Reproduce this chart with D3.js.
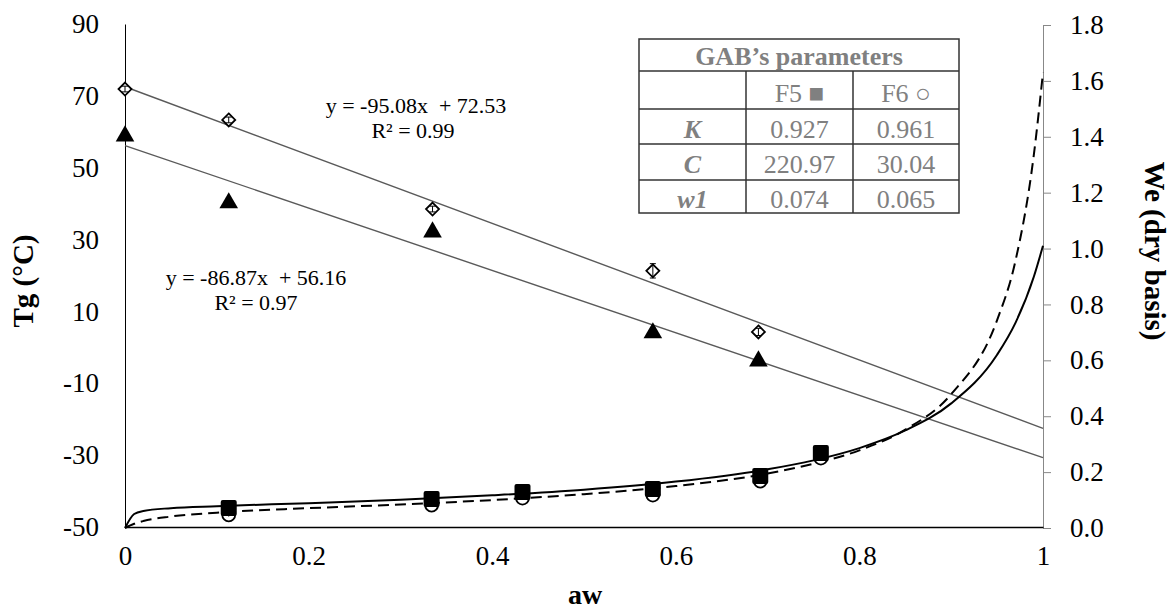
<!DOCTYPE html>
<html>
<head>
<meta charset="utf-8">
<script src="https://cdn.jsdelivr.net/npm/d3@7"></script>
<style>
  body { margin: 0; background: #fff; }
  svg text { font-family: "Liberation Serif", "Times New Roman", Times, serif; }
</style>
</head>
<body>
<svg width="1175" height="613"></svg>
<script>
// glass transition points (left axis)
const tgAw = [0, 0.113, 0.335, 0.575, 0.69];
const tgDiamond = [71.9, 63.3, 38.5, 21.3, 4.3];
const tgDiamondErr = [0.8, 0.8, 0.8, 2.0, 1.0];
const tgTriangle = [58.8, 40.2, 32.1, 4.0, -3.8];

// linear fits, end values read at aw = 0 and aw = 1
const fitAw = [0, 1];
const fitDiamond = [72.53, -22.55];
const fitTriangle = [56.16, -30.71];

// sorption points (right axis)
const weAw = [0.113, 0.334, 0.433, 0.575, 0.692, 0.758];
const weF5 = [0.072, 0.104, 0.129, 0.140, 0.186, 0.268];
const weF6 = [0.047, 0.082, 0.107, 0.118, 0.168, 0.250];
const weF6Err = [0.006, 0.006, 0.006, 0.006, 0.006, 0.006];

// GAB curves
const curveAw = [0, 0.01, 0.02, 0.05, 0.1, 0.2, 0.3, 0.4, 0.5, 0.6, 0.7, 0.75, 0.8, 0.85, 0.9, 0.95, 0.97, 0.99, 1];
const curveF5 = [0, 0.050, 0.061, 0.071, 0.078, 0.089, 0.101, 0.117, 0.137, 0.166, 0.210, 0.242, 0.286, 0.349, 0.446, 0.620, 0.734, 0.899, 1.01];
const curveF6 = [0, 0.015, 0.025, 0.041, 0.055, 0.071, 0.084, 0.100, 0.121, 0.150, 0.195, 0.230, 0.278, 0.352, 0.479, 0.744, 0.956, 1.335, 1.63];

// table
const tableTitle = "GAB\u2019s parameters";
const tableHead = ["", "F5 \u25A0", "F6 \u25CB"];
const tableRows = [["K", "0.927", "0.961"], ["C", "220.97", "30.04"], ["w1", "0.074", "0.065"]];

const xTicks = [0, 0.2, 0.4, 0.6, 0.8, 1];
const yLeftTicks = [-50, -30, -10, 10, 30, 50, 70, 90];
const yRightTicks = [0, 0.2, 0.4, 0.6, 0.8, 1.0, 1.2, 1.4, 1.6, 1.8];

const svg = d3.select("svg");
const x = d3.scaleLinear().domain([0, 1]).range([125, 1043]);
const yL = d3.scaleLinear().domain([-50, 90]).range([527, 24]);
const yR = d3.scaleLinear().domain([0, 1.8]).range([528, 25]);

function styleTicks(g) {
  g.attr("font-family", null);
  g.selectAll("text").attr("font-size", 27).attr("fill", "#000");
}

// right axis
const rAxis = svg.append("g")
  .attr("transform", "translate(1043,0)")
  .call(d3.axisRight(yR).tickValues(yRightTicks).tickFormat(d3.format(".1f")).tickSize(8).tickPadding(19).tickSizeOuter(0));
rAxis.select(".domain").attr("stroke", "#888");
rAxis.selectAll(".tick line").attr("stroke", "#888");
styleTicks(rAxis);

// left axis
const lAxis = svg.append("g")
  .attr("transform", "translate(125,0)")
  .call(d3.axisLeft(yL).tickValues(yLeftTicks).tickFormat(d => String(d)).tickSize(0).tickPadding(26).tickSizeOuter(0));
lAxis.select(".domain").attr("stroke", "#000");
styleTicks(lAxis);

// bottom axis
const bAxis = svg.append("g")
  .attr("transform", "translate(0,527)")
  .call(d3.axisBottom(x).tickValues(xTicks).tickFormat(d => String(d)).tickSize(0).tickPadding(19).tickSizeOuter(0));
bAxis.select(".domain").attr("stroke", "#000").attr("stroke-width", 1.6);
styleTicks(bAxis);

// axis titles
svg.append("text").attr("x", 585).attr("y", 604).attr("text-anchor", "middle")
  .attr("font-size", 28).attr("font-weight", "bold").text("aw");
svg.append("text").attr("transform", "translate(33,281) rotate(-90)").attr("text-anchor", "middle")
  .attr("font-size", 29).attr("font-weight", "bold").text("Tg (\u00B0C)");
svg.append("text").attr("transform", "translate(1145,251) rotate(90)").attr("text-anchor", "middle")
  .attr("font-size", 29).attr("font-weight", "bold").text("We (dry basis)");

// linear fits
const fitLine = d3.line().x((d, i) => x(fitAw[i])).y(d => yL(d));
[fitDiamond, fitTriangle].forEach(f => {
  svg.append("path").attr("d", fitLine(f)).attr("fill", "none")
    .attr("stroke", "#5a5a5a").attr("stroke-width", 1.4);
});

// GAB curves
const curveLine = d3.line().x((d, i) => x(curveAw[i])).y(d => yR(d)).curve(d3.curveMonotoneX);
svg.append("path").attr("d", curveLine(curveF5)).attr("fill", "none")
  .attr("stroke", "#000").attr("stroke-width", 2);
svg.append("path").attr("d", curveLine(curveF6)).attr("fill", "none")
  .attr("stroke", "#000").attr("stroke-width", 2).attr("stroke-dasharray", "11,6");

// circles (F6) with error bars
const circ = svg.append("g");
weAw.forEach((a, i) => {
  const cx = x(a), cy = yR(weF6[i]);
  circ.append("circle").attr("cx", cx).attr("cy", cy).attr("r", 6.5)
    .attr("fill", "#fff").attr("stroke", "#000").attr("stroke-width", 1.8);
  circ.append("line").attr("x1", cx).attr("x2", cx)
    .attr("y1", yR(weF6[i] + weF6Err[i])).attr("y2", yR(weF6[i] - weF6Err[i]))
    .attr("stroke", "#000").attr("stroke-width", 1);
});

// squares (F5)
svg.append("g").selectAll("rect").data(weF5).join("rect")
  .attr("x", (d, i) => x(weAw[i]) - 8).attr("y", d => yR(d) - 8)
  .attr("width", 16).attr("height", 16).attr("rx", 2)
  .attr("fill", "#000");

// triangles
svg.append("g").selectAll("path").data(tgTriangle).join("path")
  .attr("d", d3.symbol().type(d3.symbolTriangle).size(150))
  .attr("transform", (d, i) => `translate(${x(tgAw[i])},${yL(d)})`)
  .attr("fill", "#000");

// diamonds with error bars
const dia = svg.append("g");
tgAw.forEach((a, i) => {
  const cx = x(a), cy = yL(tgDiamond[i]);
  dia.append("path").attr("d", `M${cx},${cy - 6.5}L${cx + 6.5},${cy}L${cx},${cy + 6.5}L${cx - 6.5},${cy}Z`)
    .attr("fill", "#fff").attr("stroke", "#000").attr("stroke-width", 1.8);
  const y1 = yL(tgDiamond[i] + tgDiamondErr[i]), y2 = yL(tgDiamond[i] - tgDiamondErr[i]);
  dia.append("path").attr("d", `M${cx},${y1}V${y2}M${cx - 3},${y1}H${cx + 3}M${cx - 3},${y2}H${cx + 3}`)
    .attr("stroke", "#000").attr("stroke-width", 1).attr("fill", "none");
});

// fit labels
const eq = svg.append("g").attr("font-size", 22).attr("text-anchor", "middle").attr("fill", "#000");
eq.append("text").attr("x", 416).attr("y", 113).attr("xml:space", "preserve").text("y = -95.08x  + 72.53");
eq.append("text").attr("x", 413).attr("y", 138).text("R\u00B2 = 0.99");
eq.append("text").attr("x", 256).attr("y", 285).attr("xml:space", "preserve").text("y = -86.87x  + 56.16");
eq.append("text").attr("x", 256).attr("y", 310).text("R\u00B2 = 0.97");

// GAB table
const tx = [639, 746, 853, 959];
const ty = [39, 71, 109, 144, 180, 213];
const tb = svg.append("g");
tb.append("rect").attr("x", tx[0]).attr("y", ty[0]).attr("width", tx[3] - tx[0]).attr("height", ty[5] - ty[0])
  .attr("fill", "#fff").attr("stroke", "#333").attr("stroke-width", 1.5);
ty.slice(1, 5).forEach(v => {
  tb.append("line").attr("x1", tx[0]).attr("x2", tx[3]).attr("y1", v).attr("y2", v)
    .attr("stroke", "#333").attr("stroke-width", 1.5);
});
[tx[1], tx[2]].forEach(v => {
  tb.append("line").attr("x1", v).attr("x2", v).attr("y1", ty[1]).attr("y2", ty[5])
    .attr("stroke", "#333").attr("stroke-width", 1.5);
});
tb.append("text").attr("x", (tx[0] + tx[3]) / 2).attr("y", 65).attr("text-anchor", "middle")
  .attr("font-size", 26).attr("font-weight", "bold").attr("fill", "#808080").text(tableTitle);
const colMid = [0, 1, 2].map(i => (tx[i] + tx[i + 1]) / 2);
const rowBase = [102, 138, 173, 208];
[tableHead].concat(tableRows).forEach((row, r) => {
  row.forEach((cell, c) => {
    const t = tb.append("text").attr("x", colMid[c]).attr("y", rowBase[r]).attr("text-anchor", "middle")
      .attr("font-size", 26).attr("fill", "#808080").text(cell);
    if (r > 0 && c === 0) t.attr("font-weight", "bold").attr("font-style", "italic");
  });
});
</script>
</body>
</html>
